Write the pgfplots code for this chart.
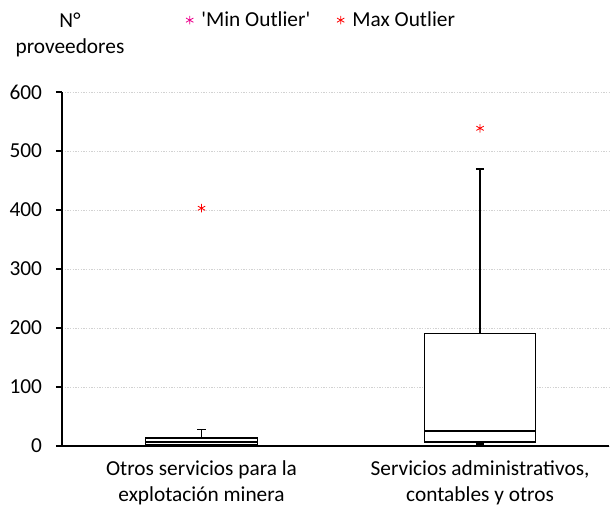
\documentclass[border=0pt]{standalone}
\usepackage{pgfplots}
\pgfplotsset{compat=1.18}
\usepackage{fontspec}
\setmainfont{Carlito}[Ligatures=TeXOff]

\begin{document}
\begin{tikzpicture}[font=\fontsize{16}{19.5}\selectfont]
\useasboundingbox (0,0) rectangle (457.5pt,385.5pt);
\begin{axis}[
    at={(46.5pt,51pt)},
    anchor=south west,
    scale only axis,
    width=410.25pt,
    height=265.5pt,
    xmin=0.499, xmax=2.463,
    ymin=0, ymax=600,
    ytick={0,100,...,600},
    axis x line*=bottom,
    axis y line*=left,
    axis line style={black, line width=0.8pt, -},
    ymajorgrids=true,
    grid style={gray!35, line width=0.6pt, dash pattern=on 1pt off 1pt},
    tick align=outside,
    ytick style={black, line width=0.8pt},
    major tick length=4.5pt,
    xtick={1,2},
    xticklabels={{Otros servicios para la\\explotación minera},{Servicios administrativos,\\contables y otros}},
    xticklabel style={align=center, yshift=-3pt},
    xtick style={draw=none},
    extra x ticks={1.5},
    extra x tick labels={},
    extra x tick style={tick style={draw=gray, line width=1.2pt}},
    /pgf/number format/assume math mode=true,
    yticklabel style={xshift=-7pt},
    legend style={at={(0.475,1.203)}, anchor=center, draw=none, fill=none,
        legend columns=2, font=\fontsize{16}{19.5}\selectfont,
        /tikz/every odd column/.append style={column sep=4pt},
        /tikz/every even column/.append style={column sep=18pt}},
    legend cell align=left,
    every axis plot/.append style={forget plot},
]
% box 1: Otros servicios para la explotacion minera
\addplot[black, line width=0.8pt, fill=white] coordinates {(0.8,1.7) (1.2,1.7) (1.2,13.6) (0.8,13.6) (0.8,1.7)};
\addplot[black, line width=0.8pt] coordinates {(0.8,6.8) (1.2,6.8)};
\addplot[black, line width=1.3pt] coordinates {(1,13.6) (1,28)};
\addplot[black, line width=1.3pt] coordinates {(0.985,28) (1.015,28)};
\addplot[black, line width=1.3pt] coordinates {(1,0) (1,1.7)};
\addplot[black, line width=1.3pt] coordinates {(0.985,0.3) (1.015,0.3)};
% box 2: Servicios administrativos, contables y otros
\addplot[black, line width=0.8pt, fill=white] coordinates {(1.8,6.8) (2.2,6.8) (2.2,191) (1.8,191) (1.8,6.8)};
\addplot[black, line width=0.8pt] coordinates {(1.8,25.4) (2.2,25.4)};
\addplot[black, line width=1.3pt] coordinates {(2,191) (2,469.5)};
\addplot[black, line width=1.3pt] coordinates {(1.985,469.5) (2.015,469.5)};
\addplot[black, line width=1.3pt] coordinates {(2,4) (2,6.8)};
\addplot[black, line width=1.3pt] coordinates {(1.985,4) (2.015,4)};

\addlegendimage{only marks, mark=asterisk, magenta, mark size=3.2pt, line width=0.6pt}
\addlegendentry{'Min Outlier'}
\addplot[only marks, mark=asterisk, red, mark size=3.2pt, line width=0.6pt, forget plot=false] coordinates {
    (1,403)
    (2,538.5)
};
\addlegendentry{Max Outlier}
\end{axis}
\node[align=center, font=\fontsize{16}{19.5}\selectfont] at (52.5pt,359.5pt) {N°\\proveedores};
\end{tikzpicture}
\end{document}
